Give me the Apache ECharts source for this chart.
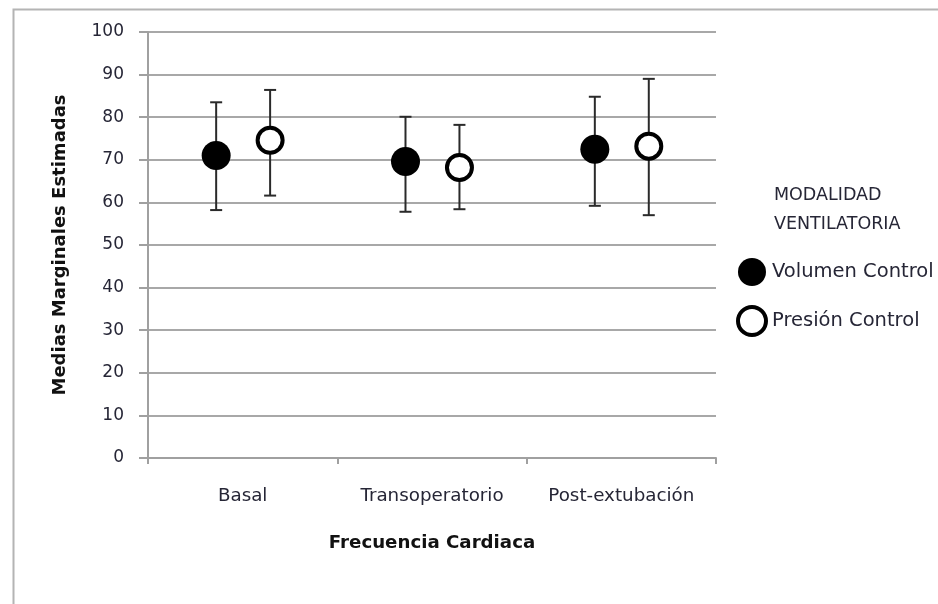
<!DOCTYPE html>
<html>
<head>
<meta charset="utf-8">
<script src="https://cdn.jsdelivr.net/npm/echarts@6/dist/echarts.min.js"></script>
<style>html,body{margin:0;padding:0;background:#fff;}#c{width:938px;height:604px;}</style>
</head>
<body>
<div id="c"></div>
<script>
const categories = ['Basal', 'Transoperatorio', 'Post-extubación'];
const seriesNames = ['Volumen Control', 'Presión Control'];
const vcMean = [71.0, 69.6, 72.5];
const vcUpper = [83.5, 80.1, 84.8];
const vcLower = [58.2, 57.8, 59.2];
const pcMean = [74.6, 68.2, 73.2];
const pcUpper = [86.4, 78.2, 89.0];
const pcLower = [61.6, 58.4, 57.0];
const yTicks = [0, 10, 20, 30, 40, 50, 60, 70, 80, 90, 100];

const FONT = '"DejaVu Sans", sans-serif';
const TXT = '#262636';

function buildData(mean, up, lo) {
  return categories.map((c, i) => [i, mean[i], up[i], lo[i]]);
}

function makeRender(offsetFrac, filled) {
  return function (params, api) {
    const ci = api.value(0);
    const c = api.coord([ci, api.value(1)]);
    const bw = api.size([1, 0])[0];
    const x = c[0] + offsetFrac * bw;
    const yHi = api.coord([ci, api.value(2)])[1];
    const yLo = api.coord([ci, api.value(3)])[1];
    const cap = 6;
    const lineStyle = { stroke: '#2a2a2a', lineWidth: 2 };
    return {
      type: 'group',
      children: [
        { type: 'line', shape: { x1: x, y1: yHi, x2: x, y2: yLo }, style: lineStyle },
        { type: 'line', shape: { x1: x - cap, y1: yHi, x2: x + cap, y2: yHi }, style: lineStyle },
        { type: 'line', shape: { x1: x - cap, y1: yLo, x2: x + cap, y2: yLo }, style: lineStyle },
        filled
          ? { type: 'circle', shape: { cx: x, cy: c[1], r: 14.5 }, style: { fill: '#000' } }
          : { type: 'circle', shape: { cx: x, cy: c[1], r: 12.5 }, style: { fill: '#fff', stroke: '#000', lineWidth: 4 } }
      ]
    };
  };
}

const chart = echarts.init(document.getElementById('c'));
chart.setOption({
  animation: false,
  backgroundColor: '#fff',
  graphic: [{
    type: 'rect', left: 11, top: 7, shape: { width: 1000, height: 1000 },
    style: { fill: 'none', stroke: '#b4b4b4', lineWidth: 2 }, silent: true
  }],
  title: {
    text: 'MODALIDAD\nVENTILATORIA',
    left: 769, top: 176,
    textStyle: { fontFamily: FONT, fontSize: 17.5, fontWeight: 'normal', color: TXT, lineHeight: 29 }
  },
  legend: {
    orient: 'vertical',
    left: 731, top: 253,
    itemWidth: 28, itemHeight: 28, itemGap: 19,
    icon: 'circle',
    data: [
      { name: seriesNames[0], itemStyle: { color: '#000' } },
      { name: seriesNames[1], itemStyle: { color: '#fff', borderColor: '#000', borderWidth: 4 } }
    ],
    textStyle: { fontFamily: FONT, fontSize: 19.5, color: TXT, padding: [0, 0, 0, 1] }
  },
  grid: { left: 148, right: 222, top: 32, bottom: 146 },
  xAxis: {
    type: 'category',
    data: categories,
    boundaryGap: true,
    name: 'Frecuencia Cardiaca',
    nameLocation: 'middle',
    nameGap: 76,
    nameTextStyle: { fontFamily: FONT, fontSize: 18.2, fontWeight: 'bold', color: '#111' },
    axisLine: { lineStyle: { color: '#a0a0a0', width: 2 } },
    axisTick: { show: true, interval: 0, length: 6, lineStyle: { color: '#a0a0a0', width: 2 } },
    axisLabel: { interval: 0, hideOverlap: false, margin: 29, fontFamily: FONT, fontSize: 18.3, color: TXT },
    splitLine: { show: false }
  },
  yAxis: {
    type: 'value',
    min: 0, max: 100, interval: 10,
    name: 'Medias Marginales Estimadas',
    nameLocation: 'middle',
    nameGap: 79,
    nameTextStyle: { fontFamily: FONT, fontSize: 18, fontWeight: 'bold', color: '#111' },
    axisLine: { show: true, lineStyle: { color: '#a0a0a0', width: 2 } },
    axisTick: { show: true, length: 9, lineStyle: { color: '#a0a0a0', width: 2 } },
    axisLabel: {
      margin: 24, fontFamily: FONT, fontSize: 17, color: TXT,
      formatter: v => (yTicks.includes(v) ? String(v) : '')
    },
    splitLine: { show: true, lineStyle: { color: '#a8a8a8', width: 2 } }
  },
  series: [
    {
      name: seriesNames[0], type: 'custom',
      renderItem: makeRender(-0.14, true),
      encode: { x: 0, y: [1, 2, 3] },
      itemStyle: { color: '#000' },
      data: buildData(vcMean, vcUpper, vcLower), z: 3
    },
    {
      name: seriesNames[1], type: 'custom',
      renderItem: makeRender(0.145, false),
      encode: { x: 0, y: [1, 2, 3] },
      itemStyle: { color: '#fff', borderColor: '#000', borderWidth: 4 },
      data: buildData(pcMean, pcUpper, pcLower), z: 3
    }
  ]
});
</script>
</body>
</html>
